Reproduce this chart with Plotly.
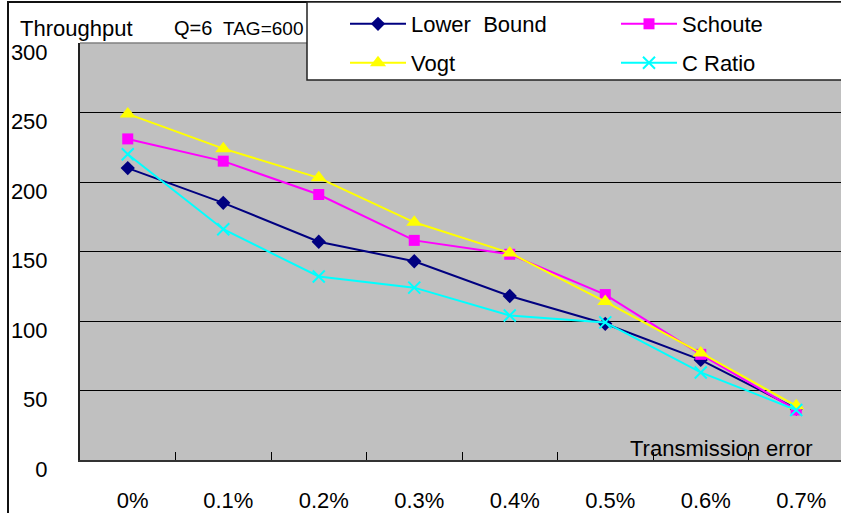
import plotly.graph_objects as go

categories = ["0%", "0.1%", "0.2%", "0.3%", "0.4%", "0.5%", "0.6%", "0.7%"]
lower_bound = [210, 185, 157, 143, 118, 98, 72, 37]
schoute = [231, 215, 191, 158, 148, 119, 76, 36]
vogt = [249, 224, 203, 171, 149, 114, 77, 39]
c_ratio = [220, 166, 132, 124, 104, 99, 63, 36]
y_ticks = [0, 50, 100, 150, 200, 250, 300]

W, H = 841, 513
L, R, T, B = 80, 0, 43, 53
PW, PH = W - L - R, H - T - B
FONT = "Liberation Sans, Arial, sans-serif"


def fx(px):
    return (px - L) / PW


def fy(py):
    return (H - B - py) / PH


def cx(px):
    return px / W


def cy(py):
    return 1 - py / H


fig = go.Figure()
series = [
    ("Lower  Bound", lower_bound, "#000080", dict(symbol="diamond", size=11), "legend", 345, 24),
    ("Schoute", schoute, "#FF00FF", dict(symbol="square", size=11), "legend2", 616, 24),
    ("Vogt", vogt, "#FFFF00", dict(symbol="triangle-up", size=14), "legend3", 345, 63),
    ("C Ratio", c_ratio, "#00FFFF", dict(symbol="x-thin", size=12), "legend4", 616, 63),
]
legends = {}
for name, vals, col, mk, lg, lx, ly in series:
    marker = dict(color=col, **mk)
    if mk["symbol"] == "x-thin":
        marker["line"] = dict(color=col, width=2)
    else:
        marker["line"] = dict(width=0)
    fig.add_trace(go.Scatter(
        x=categories, y=vals, name=name, mode="lines+markers",
        line=dict(color=col, width=2), marker=marker, legend=lg,
    ))
    legends[lg] = dict(
        x=cx(lx), y=cy(ly), xref="container", yref="container",
        xanchor="left", yanchor="middle", orientation="h",
        bgcolor="rgba(0,0,0,0)", borderwidth=0,
        font=dict(family=FONT, size=22, color="#000"), itemwidth=56,
    )

cat_w = 95.5
fig.update_xaxes(
    type="category", range=[-0.5, -0.5 + PW / cat_w],
    tickson="boundaries", ticks="inside", ticklen=8, tickwidth=1, tickcolor="#000",
    showline=True, linecolor="#333", linewidth=2, showgrid=False,
    tickfont=dict(family=FONT, size=22, color="#000"),
    ticklabelstandoff=20, ticklabelshift=5, automargin=False,
)
fig.update_yaxes(
    range=[0, 300], tickvals=y_ticks, ticks="inside", ticklen=8, tickcolor="#000",
    showline=True, linecolor="#222", linewidth=2,
    showgrid=True, gridcolor="#000", gridwidth=1, zeroline=False,
    tickfont=dict(family=FONT, size=22, color="#000"),
    ticklabelstandoff=26, ticklabelshift=9, automargin=False,
)

shapes = [
    dict(type="line", xref="paper", yref="paper", x0=0, x1=1, y0=1, y1=1,
         line=dict(color="#808080", width=1.5)),
    dict(type="rect", xref="paper", yref="paper", x0=fx(8), x1=fx(1200), y0=fy(2), y1=fy(900),
         line=dict(color="#111", width=2), fillcolor="rgba(0,0,0,0)", layer="above"),
    dict(type="rect", xref="paper", yref="paper", x0=fx(307), x1=fx(1200), y0=fy(2), y1=fy(80),
         line=dict(color="#222", width=1.5), fillcolor="#FFFFFF", layer="above"),
]


def ann(text, px, py, size):
    return dict(text=text, xref="paper", yref="paper", x=fx(px), y=fy(py),
                xanchor="left", yanchor="middle", showarrow=False,
                font=dict(family=FONT, size=size, color="#000"))


annotations = [
    ann("Throughput", 18, 28, 22),
    ann("Q=6", 172, 28, 20),
    ann("TAG=600", 221, 28, 19),
    ann("Transmission error", 628, 448, 22),
]

fig.update_layout(
    width=W, height=H,
    margin=dict(l=L, r=R, t=T, b=B, pad=0, autoexpand=False),
    paper_bgcolor="#FFFFFF", plot_bgcolor="#C0C0C0",
    showlegend=True,
    shapes=shapes, annotations=annotations,
    **legends,
)

fig.write_html("out.html")
